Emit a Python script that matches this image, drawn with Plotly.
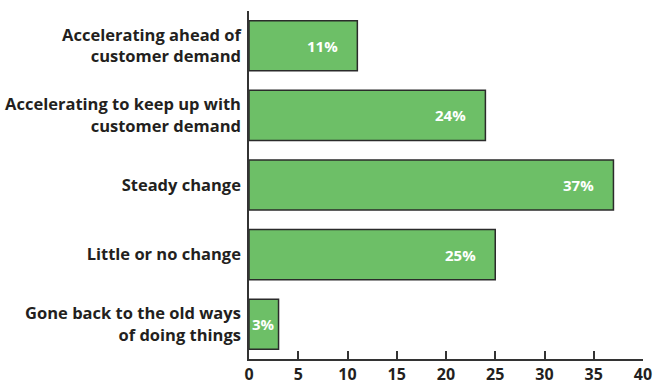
import plotly.graph_objects as go

categories = [
    "Accelerating ahead of<br>customer demand",
    "Accelerating to keep up with<br>customer demand",
    "Steady change",
    "Little or no change",
    "Gone back to the old ways<br>of doing things",
]
values = [11, 24, 37, 25, 3]
tick_vals = [0, 5, 10, 15, 20, 25, 30, 35, 40]

FONT = "Open Sans"
TEXT_COLOR = "#231f20"
BAR_FILL = "#6dbf67"
BAR_LINE = "#2b2b2b"

X_MAX = 40
PLOT_W = 665 - 249 - 22  # plot area width in px

fig = go.Figure(
    go.Bar(
        y=categories,
        x=values,
        orientation="h",
        width=0.72,
        marker=dict(color=BAR_FILL, line=dict(color=BAR_LINE, width=1.5)),
        hoverinfo="skip",
    )
)

# white percentage labels sitting inside the bar, near its end
for cat, v in zip(categories, values):
    bar_px = v / X_MAX * PLOT_W
    fig.add_annotation(
        x=v, y=cat, xref="x", yref="y",
        text=f"<b>{v}%</b>", showarrow=False,
        xanchor="center", xshift=-min(35, bar_px / 2),
        font=dict(family=FONT, size=15, color="white"),
    )

fig.update_layout(
    width=665, height=385,
    margin=dict(l=249, r=22, t=11, b=26),
    paper_bgcolor="white", plot_bgcolor="white",
    showlegend=False,
    font=dict(family=FONT, color=TEXT_COLOR),
    xaxis=dict(
        range=[0, X_MAX], tickvals=tick_vals, automargin=False,
        ticks="inside", ticklen=8, tickwidth=1.5, tickcolor="#333333",
        showline=True, linecolor="#333333", linewidth=1.5,
        showgrid=False, zeroline=False, ticklabelstandoff=0,
        tickfont=dict(family=FONT, size=16, color=TEXT_COLOR, weight="bold"),
    ),
    yaxis=dict(
        range=[4.5, -0.5], autorange=False, automargin=False,
        showline=True, linecolor="#333333", linewidth=1.5,
        showgrid=False, zeroline=False, ticks="", ticklabelstandoff=3,
        tickfont=dict(family=FONT, size=16.5, color=TEXT_COLOR, weight="bold"),
    ),
)

fig.write_html("out.html")
